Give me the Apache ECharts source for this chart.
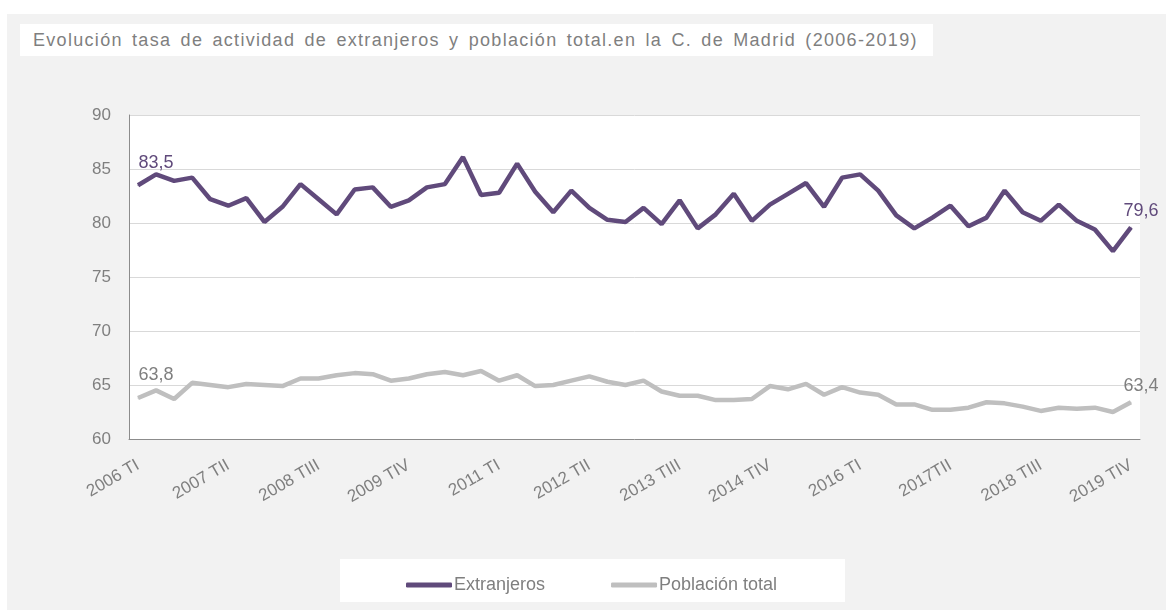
<!DOCTYPE html>
<html lang="es">
<head>
<meta charset="utf-8">
<script src="https://cdn.jsdelivr.net/npm/echarts@6/dist/echarts.min.js"></script>
<style>
	body { margin: 0; background: #fff; }
	/* fondo gris y cajas blancas detras del grafico */
	.bg { position: absolute; left: 7px; top: 14px; width: 1159px; height: 596px; background: #f2f2f2; }
	.box { position: absolute; background: #fff; }
	.titulo {
		left: 20px; top: 24px; width: 913px; height: 32px;
		font: 18px 'Liberation Sans', Arial, sans-serif; color: #7f7f7f;
		line-height: 32px; padding-left: 13px; box-sizing: border-box;
		letter-spacing: 1.3px; word-spacing: 3px; white-space: nowrap;
	}
	#chart { position: absolute; left: 0; top: 0; width: 1166px; height: 610px; }
</style>
</head>
<body>
<div class="bg"></div>
<div class="box titulo">Evolución tasa de actividad de extranjeros y población total.en la C. de Madrid (2006-2019)</div>
<div class="box" style="left:340px;top:559px;width:505px;height:43px;"></div>
<div id="chart"></div>
<script>
var years = ['2006','2007','2008','2009','2010','2011','2012','2013','2014','2015','2016','2017','2018','2019'];
var quarters = ['TI','TII','TIII','TIV'];
var categories = [];
years.forEach(function (y) {
	quarters.forEach(function (q) {
		categories.push(y === '2017' ? y + q : y + ' ' + q);
	});
});

var extranjeros = [
	83.5, 84.5, 83.9, 84.2, 82.2, 81.6, 82.3, 80.1, 81.5, 83.6,
	82.2, 80.8, 83.1, 83.3, 81.5, 82.1, 83.3, 83.6, 86.1, 82.6,
	82.8, 85.5, 82.9, 81.0, 83.0, 81.4, 80.3, 80.1, 81.4, 79.9,
	82.1, 79.5, 80.8, 82.7, 80.2, 81.7, 82.7, 83.7, 81.5, 84.2,
	84.5, 83.0, 80.7, 79.5, 80.5, 81.6, 79.7, 80.5, 83.0, 81.0,
	80.2, 81.7, 80.2, 79.4, 77.4, 79.6
];
var poblacion = [
	63.8, 64.5, 63.7, 65.2, 65.0, 64.8, 65.1, 65.0, 64.9, 65.6,
	65.6, 65.9, 66.1, 66.0, 65.4, 65.6, 66.0, 66.2, 65.9, 66.3,
	65.4, 65.9, 64.9, 65.0, 65.4, 65.8, 65.3, 65.0, 65.4, 64.4,
	64.0, 64.0, 63.6, 63.6, 63.7, 64.9, 64.6, 65.1, 64.1, 64.8,
	64.3, 64.1, 63.2, 63.2, 62.7, 62.7, 62.9, 63.4, 63.3, 63.0,
	62.6, 62.9, 62.8, 62.9, 62.5, 63.4
];

var last = categories.length - 1;
// solo el primer y el ultimo punto llevan etiqueta
function etiquetas(data, color) {
	return data.map(function (v, i) {
		if (i === 0) {
			return { value: v, label: { show: true, position: 'top', offset: [18, -8], color: color } };
		}
		if (i === last) {
			return { value: v, label: { show: true, position: 'top', offset: [10, -2], color: color } };
		}
		return v;
	});
}
function coma(p) { return String(p.value).replace('.', ','); }

var chart = echarts.init(document.getElementById('chart'));
chart.setOption({
	backgroundColor: 'transparent',
	textStyle: { fontFamily: 'Liberation Sans, Arial, sans-serif' },
	legend: {
		left: 401,
		top: 571,
		itemWidth: 46,
		itemHeight: 5,
		itemGap: 66,
		icon: 'roundRect',
		textStyle: { fontSize: 18, color: '#7f7f7f', padding: [0, 0, 0, -3] },
		data: ['Extranjeros', 'Población total']
	},
	grid: {
		show: true,
		backgroundColor: '#fff',
		borderWidth: 0,
		left: 129,
		right: 26,
		top: 115,
		bottom: 171
	},
	xAxis: {
		type: 'category',
		data: categories,
		boundaryGap: true,
		axisTick: { show: false },
		axisLine: { lineStyle: { color: '#8c8c8c' } },
		axisLabel: { interval: 4, rotate: 30, fontSize: 17, color: '#7f7f7f', margin: 25 }
	},
	yAxis: {
		type: 'value',
		min: 60,
		max: 90,
		interval: 5,
		axisLine: { show: true, lineStyle: { color: '#8c8c8c' } },
		axisTick: { show: false },
		splitLine: { lineStyle: { color: '#d9d9d9' } },
		axisLabel: { fontSize: 17, color: '#7f7f7f', margin: 18 }
	},
	series: [{
		name: 'Extranjeros',
		type: 'line',
		data: etiquetas(extranjeros, '#604a7b'),
		symbol: 'circle',
		symbolSize: 1,
		color: '#604a7b',
		lineStyle: { width: 4.5 },
		label: { fontSize: 18, formatter: coma }
	}, {
		name: 'Población total',
		type: 'line',
		data: etiquetas(poblacion, '#7f7f7f'),
		symbol: 'circle',
		symbolSize: 1,
		color: '#bfbfbf',
		lineStyle: { width: 4.5 },
		label: { fontSize: 18, formatter: coma }
	}]
});
</script>
</body>
</html>
